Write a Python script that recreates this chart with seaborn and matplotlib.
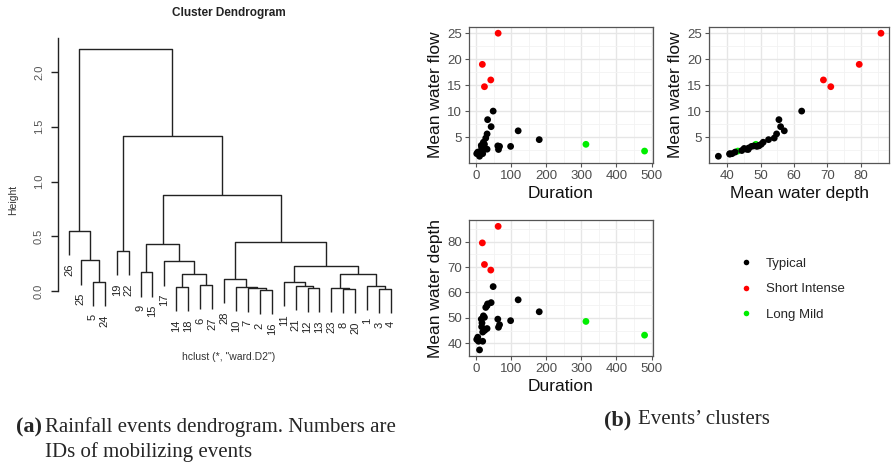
import numpy as np
import pandas as pd
import matplotlib
matplotlib.use("Agg")
import matplotlib.pyplot as plt
import seaborn as sns
from matplotlib.lines import Line2D
from matplotlib.ticker import MultipleLocator

# ---------------- dendrogram data ----------------
leaf_order = ['26', '25', '5', '24', '19', '22', '9', '15', '17', '14', '18', '6', '27',
              '28', '10', '7', '2', '16', '11', '21', '12', '13', '23', '8', '20', '1', '3', '4']
merge_left = ['5', '25', '26', '19', '9', '14', '6', 'm5', '17', 'm4', '2', '7', '10', '28',
              '12', '21', '11', '8', '23', '3', '1', 'm18', 'm16', 'm13', 'm9', 'm3', 'm2']
merge_right = ['24', 'm0', 'm1', '22', '15', '18', '27', 'm6', 'm7', 'm8', '16', 'm10', 'm11', 'm12',
               '13', 'm14', 'm15', '20', 'm17', '4', 'm19', 'm20', 'm21', 'm22', 'm23', 'm24', 'm25']
merge_height = [0.085, 0.28, 0.55, 0.365, 0.17, 0.034, 0.055, 0.155, 0.27, 0.425, 0.01, 0.03,
                0.04, 0.11, 0.03, 0.05, 0.085, 0.02, 0.03, 0.02, 0.05, 0.16, 0.23, 0.445, 0.88,
                1.42, 2.21]
dend_yticks = [0.0, 0.5, 1.0, 1.5, 2.0]

# ---------------- event data ----------------
duration = [63, 18, 42, 24, 313, 480,
            48.8, 120, 43, 33, 31.5, 27.7, 180, 98.5, 62, 67, 64, 21, 24, 15, 17, 16,
            31.5, 25, 19, 5, 2, 7, 19, 10]
flow = [25, 19, 16, 14.7, 3.6, 2.3,
        10.0, 6.2, 7.0, 8.35, 5.6, 4.8, 4.5, 3.2, 3.3, 3.2, 2.6, 4.0, 3.6, 3.4, 3.3, 2.9,
        2.66, 2.8, 2.4, 2.1, 1.8, 1.7, 1.8, 1.3]
depth = [86, 79.5, 68.8, 71, 48.6, 43.2,
         62.3, 57.1, 56.0, 55.5, 54.8, 54.1, 52.4, 48.9, 49.5, 47.3, 46.3, 50.8, 50.2, 49.5,
         48.0, 46.5, 45.8, 45.1, 44.4, 42.4, 41.5, 40.8, 40.8, 37.4]
cluster = ['Short Intense'] * 4 + ['Long Mild'] * 2 + ['Typical'] * 24
cluster_names = ['Typical', 'Short Intense', 'Long Mild']
cluster_colors = ['#000000', '#FF0000', '#00EE00']

df = pd.DataFrame({'Duration': duration, 'Flow': flow, 'Depth': depth, 'Cluster': cluster})
palette = dict(zip(cluster_names, cluster_colors))

W, H = 892, 466
fig = plt.figure(figsize=(W / 100, H / 100), dpi=100)
sns.set_style("white")
plt.rcParams['font.family'] = ['Liberation Sans', 'DejaVu Sans']


def px_axes(x0, y0, x1, y1):
    return fig.add_axes([x0 / W, 1 - y1 / H, (x1 - x0) / W, (y1 - y0) / H])


# ---------------- dendrogram ----------------
ax = px_axes(58, 30, 404, 330)
hang = 0.1 * max(merge_height)
pos = {lab: i for i, lab in enumerate(leaf_order)}
hgt = {}
leaf_end = {}
for i, (a, b, h) in enumerate(zip(merge_left, merge_right, merge_height)):
    ya = hgt[a] if a in hgt else h - hang
    yb = hgt[b] if b in hgt else h - hang
    if a not in hgt:
        leaf_end[a] = ya
    if b not in hgt:
        leaf_end[b] = yb
    xa, xb = pos[a], pos[b]
    ax.plot([xa, xa, xb, xb], [ya, h, h, yb], color='#222222', lw=1.0, solid_capstyle='butt')
    pos['m%d' % i] = (xa + xb) / 2
    hgt['m%d' % i] = h
for lab in leaf_order:
    ax.annotate(lab, (pos[lab], leaf_end[lab]), xytext=(0, -6), textcoords='offset points',
                rotation=90, ha='center', va='top', fontsize=8, color='#222222')
ax.set_xlim(-0.92, 28.09)
ax.set_ylim(-0.356, 2.384)
for s in ['top', 'right', 'bottom']:
    ax.spines[s].set_visible(False)
ax.spines['left'].set_bounds(0, 2.31)
ax.spines['left'].set_color('#222222')
ax.spines['left'].set_linewidth(1.0)
ax.set_xticks([])
ax.set_yticks(dend_yticks)
ax.set_yticklabels(['%.1f' % v for v in dend_yticks], rotation=90, va='center', fontsize=8,
                   color='#555555')
ax.tick_params(axis='y', direction='out', length=5, width=1, color='#222222', pad=5, left=True)
ax.set_facecolor('none')
ax.grid(False)
fig.text(13 / W, 1 - 200 / H, 'Height', rotation=90, ha='center', va='center', fontsize=7.5,
         color='#333333')
fig.text(229 / W, 1 - 13 / H, 'Cluster Dendrogram', ha='center', va='center', fontsize=8.5,
         fontweight='bold', color='#222222')
fig.text(229 / W, 1 - 357 / H, 'hclust (*, "ward.D2")', ha='center', va='center', fontsize=7.5,
         color='#333333')


# ---------------- scatter panels ----------------
def style_panel(a, xmaj, xmin_, ymaj, ymin_, xlim, ylim, xlabel, ylabel):
    a.set_xlim(*xlim)
    a.set_ylim(*ylim)
    a.xaxis.set_major_locator(MultipleLocator(xmaj))
    a.xaxis.set_minor_locator(MultipleLocator(xmin_))
    a.yaxis.set_major_locator(MultipleLocator(ymaj))
    a.yaxis.set_minor_locator(MultipleLocator(ymin_))
    a.grid(True, which='major', color='#E6E6E6', lw=1.0)
    a.grid(True, which='minor', color='#F2F2F2', lw=0.6)
    a.set_axisbelow(True)
    for s in a.spines.values():
        s.set_visible(True)
        s.set_color('#555555')
        s.set_linewidth(0.9)
    a.tick_params(which='major', direction='out', length=3, width=0.8, color='#555555',
                  labelsize=9.5, labelcolor='#4D4D4D', pad=2, bottom=True, left=True)
    a.tick_params(which='minor', length=0)
    a.set_xlabel(xlabel, fontsize=12.5, color='#111111', labelpad=3)
    a.set_ylabel(ylabel, fontsize=12.5, color='#111111', labelpad=3)


a1 = px_axes(469, 27, 653, 163)
sns.scatterplot(data=df, x='Duration', y='Flow', hue='Cluster', palette=palette, ax=a1,
                s=24, edgecolor='none', legend=False)
style_panel(a1, 100, 50, 5, 2.5, (-20, 504), (0.0, 26.2), 'Duration', 'Mean water flow')
a1.set_yticks([5, 10, 15, 20, 25])

a2 = px_axes(709, 27, 889, 163)
sns.scatterplot(data=df, x='Depth', y='Flow', hue='Cluster', palette=palette, ax=a2,
                s=24, edgecolor='none', legend=False)
style_panel(a2, 10, 5, 5, 2.5, (34.6, 88.4), (0.0, 26.2), 'Mean water depth', 'Mean water flow')
a2.set_yticks([5, 10, 15, 20, 25])
a2.set_xticks([40, 50, 60, 70, 80])

a3 = px_axes(469, 220, 653, 356)
sns.scatterplot(data=df, x='Duration', y='Depth', hue='Cluster', palette=palette, ax=a3,
                s=24, edgecolor='none', legend=False)
style_panel(a3, 100, 50, 10, 5, (-20, 504), (35.0, 88.5), 'Duration', 'Mean water depth')
a3.set_yticks([40, 50, 60, 70, 80])

handles = [Line2D([], [], marker='o', linestyle='none', markersize=4, markerfacecolor=c,
                  markeredgecolor='none') for c in cluster_colors]
fig.legend(handles, cluster_names, loc='upper left', bbox_to_anchor=(733 / W, 1 - 251 / H),
           frameon=False, fontsize=9.5, handletextpad=1.0, labelspacing=1.0, borderpad=0,
           handlelength=1.0)

# ---------------- captions ----------------
fig.text(16 / W, 1 - 427 / H, '(a)', fontsize=16, fontweight='bold', family='Liberation Serif',
         va='center', ha='left')
fig.text(45 / W, 1 - 427 / H, 'Rainfall events dendrogram. Numbers are', fontsize=15,
         family='Liberation Serif', va='center', ha='left')
fig.text(45 / W, 1 - 452 / H, 'IDs of mobilizing events', fontsize=15,
         family='Liberation Serif', va='center', ha='left')
fig.text(604 / W, 1 - 420 / H, '(b)', fontsize=16, fontweight='bold', family='Liberation Serif',
         va='center', ha='left')
fig.text(638 / W, 1 - 420 / H, "Events\u2019 clusters", fontsize=15,
         family='Liberation Serif', va='center', ha='left')

fig.savefig('out.png', dpi=100)
